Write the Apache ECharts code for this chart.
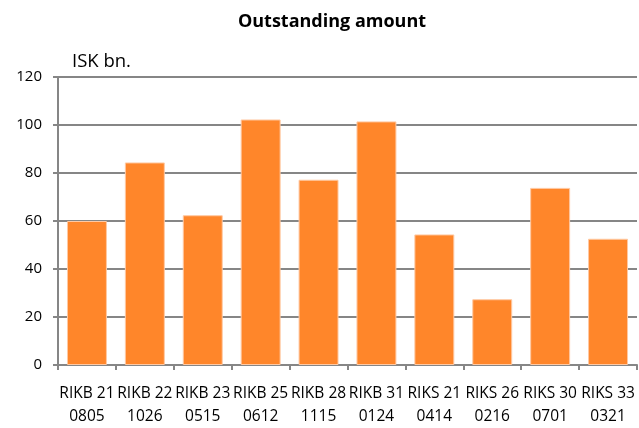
<!DOCTYPE html>
<html>
<head>
<meta charset="utf-8">
<script src="https://cdn.jsdelivr.net/npm/echarts@6/dist/echarts.min.js"></script>
<style>html,body{margin:0;padding:0;background:#fff;}#c{width:639px;height:428px;}</style>
</head>
<body>
<div id="c"></div>
<script>
const categories = ["RIKB 21\n0805","RIKB 22\n1026","RIKB 23\n0515","RIKB 25\n0612","RIKB 28\n1115","RIKB 31\n0124","RIKS 21\n0414","RIKS 26\n0216","RIKS 30\n0701","RIKS 33\n0321"];
const values = [60, 84.4, 62.4, 102.3, 77.2, 101.5, 54.4, 27.4, 73.8, 52.6];
const yTicks = [0, 20, 40, 60, 80, 100, 120];

const chart = echarts.init(document.getElementById('c'), null, {renderer: 'canvas'});
const font = '"Open Sans", "Liberation Sans", sans-serif';
chart.setOption({
  animation: false,
  title: {
    text: 'Outstanding amount',
    left: 327, top: 8, textAlign: 'center',
    textStyle: {fontFamily: font, fontWeight: 'bold', fontSize: 18, color: '#000'}
  },
  graphic: [{
    type: 'text', left: 72, top: 52,
    style: {text: 'ISK bn.', fontFamily: font, fontSize: 18.5, fill: '#000'}
  }],
  grid: {left: 58, right: 2, top: 77, bottom: 59, containLabel: false},
  xAxis: {
    type: 'category', data: categories,
    axisLine: {lineStyle: {color: '#868686', width: 2}},
    axisTick: {show: true, length: 5, lineStyle: {color: '#868686', width: 2}},
    axisLabel: {interval: 0, margin: 17, lineHeight: 23, fontFamily: font, fontSize: 15.5, color: '#000'}
  },
  yAxis: {
    type: 'value', min: yTicks[0], max: yTicks[yTicks.length - 1], interval: 20,
    axisLine: {show: true, lineStyle: {color: '#868686', width: 2}},
    axisTick: {show: true, length: 5, lineStyle: {color: '#868686', width: 2}},
    splitLine: {show: true, lineStyle: {color: '#868686', width: 2}},
    axisLabel: {margin: 16, fontFamily: font, fontSize: 15, color: '#000'}
  },
  series: [{
    type: 'bar', data: values, barCategoryGap: '31%',
    itemStyle: {color: '#FF862A', borderColor: '#FFC9A3', borderWidth: 1}
  }]
});
</script>
</body>
</html>
